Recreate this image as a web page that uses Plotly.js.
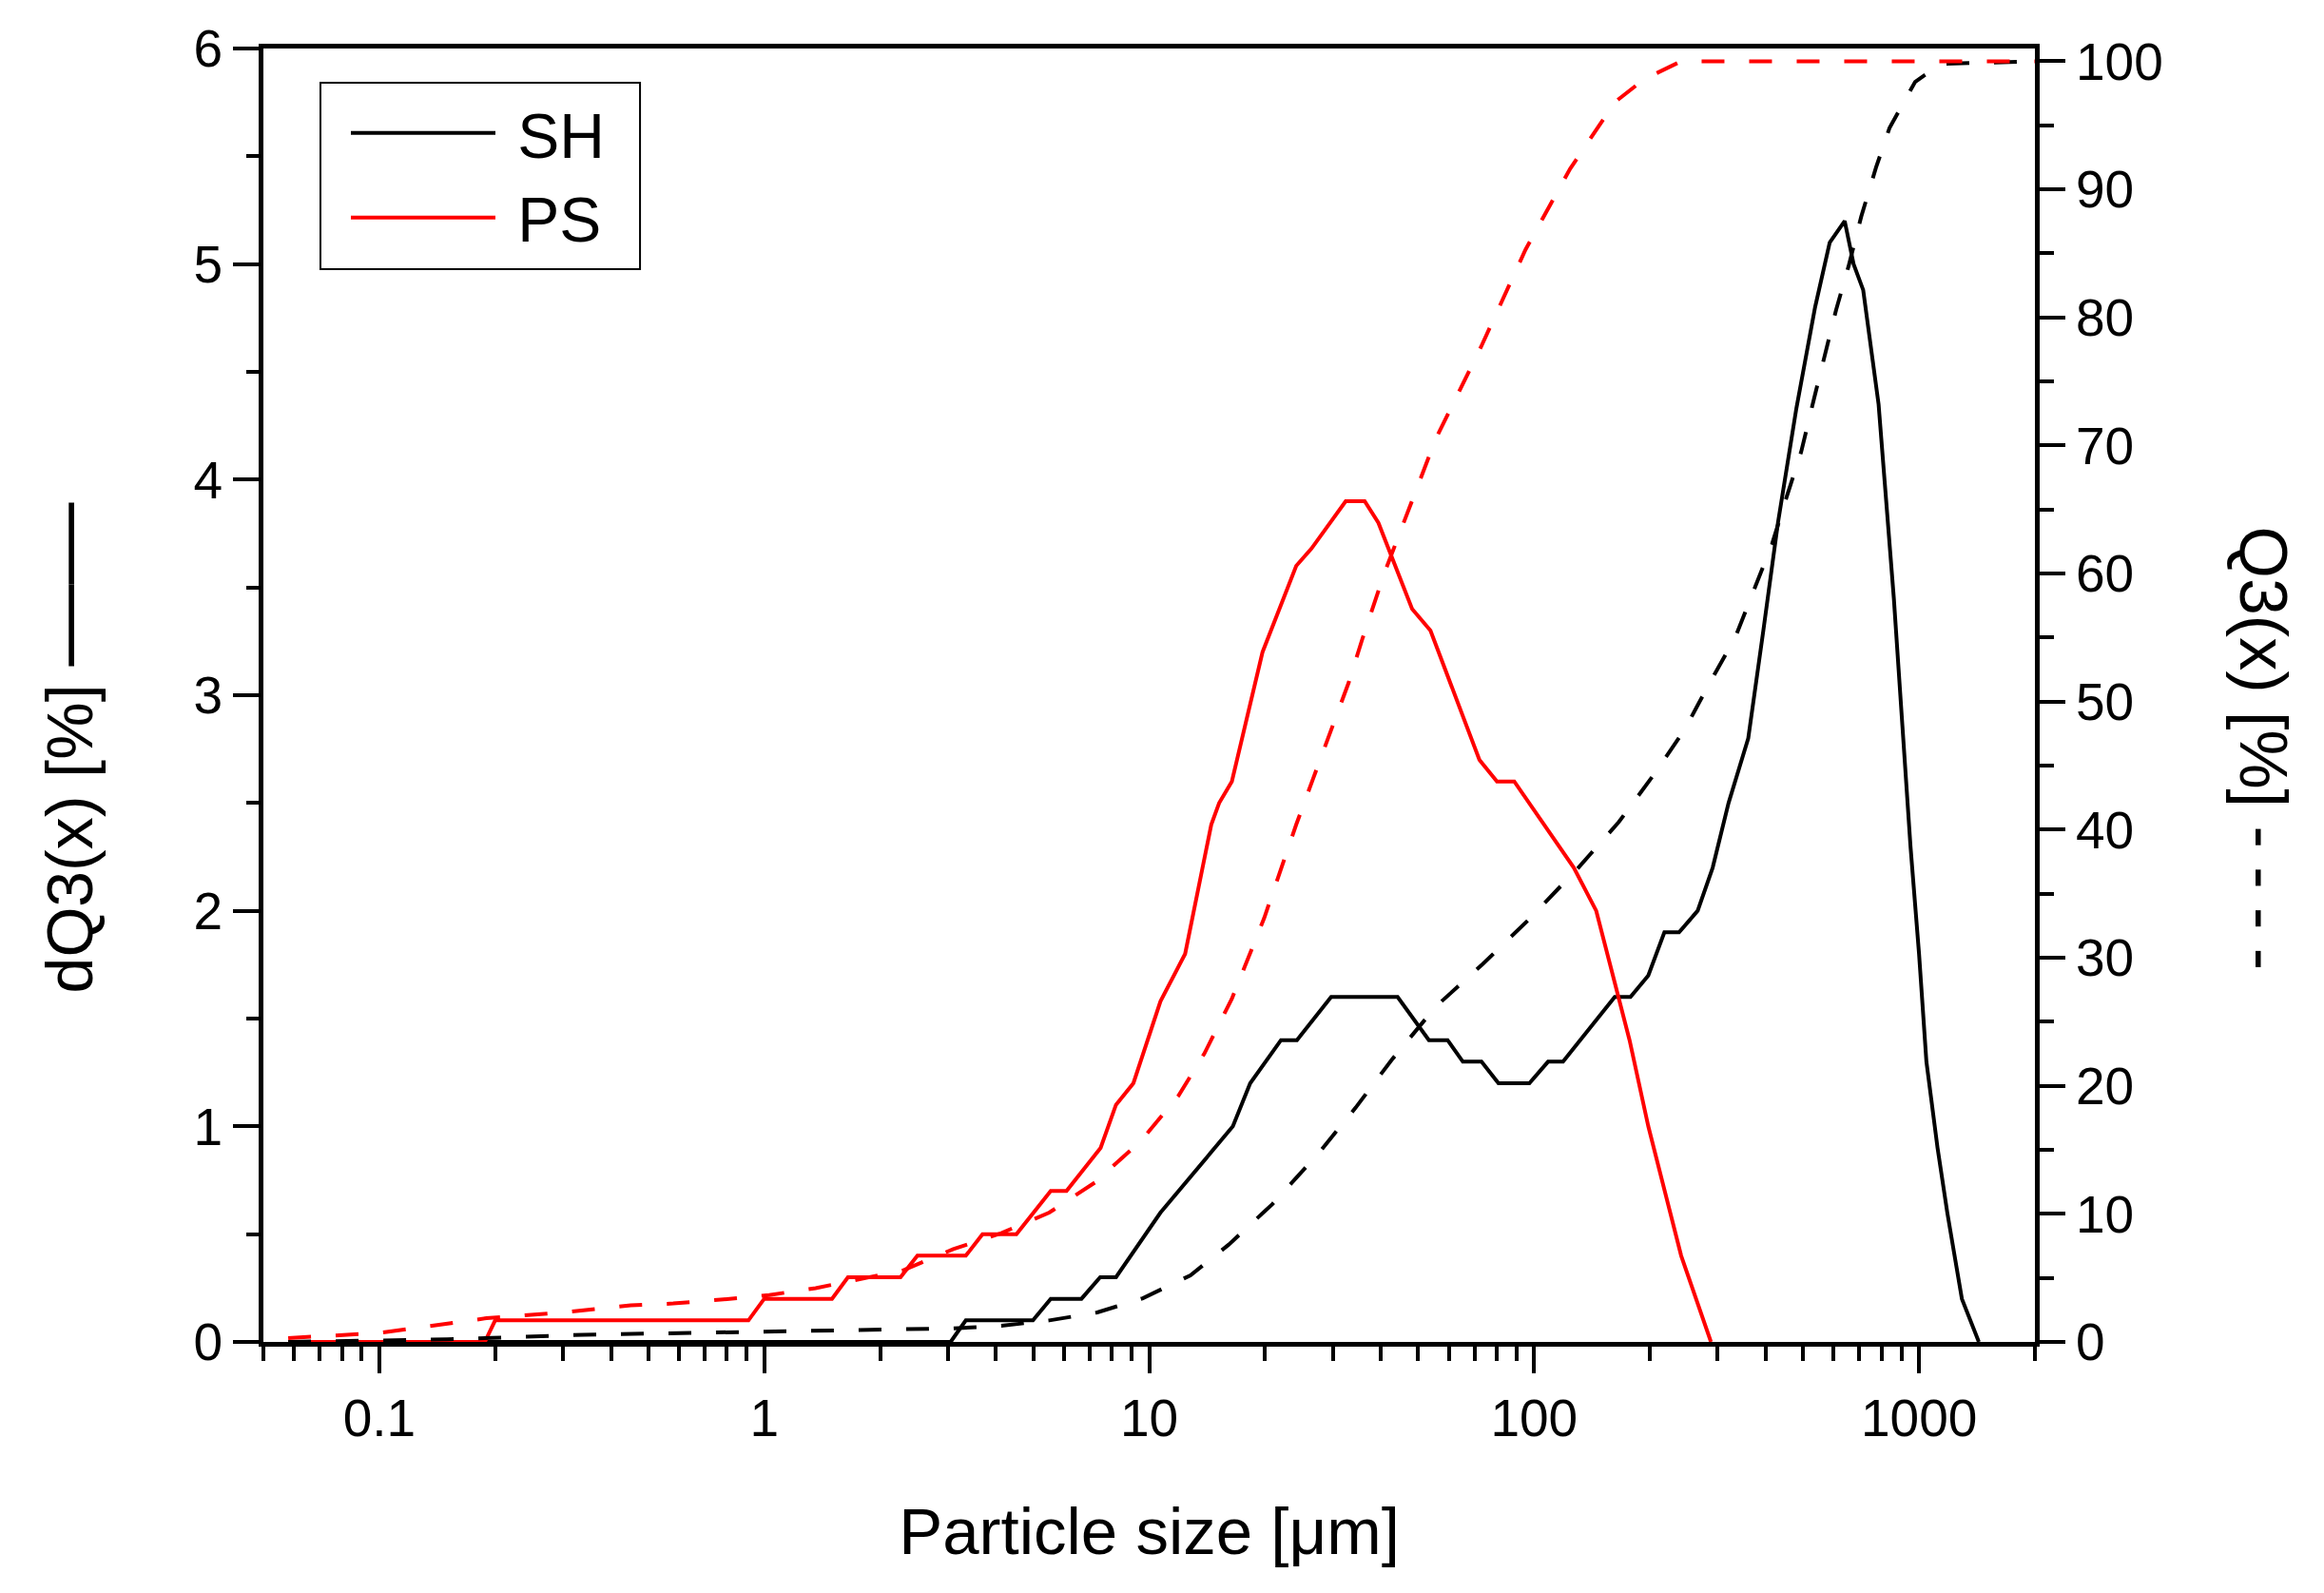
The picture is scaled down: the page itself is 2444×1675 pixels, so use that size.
<!DOCTYPE html>
<html>
<head>
<meta charset="utf-8">
<script src="https://cdn.plot.ly/plotly-3.0.1.min.js"></script>
<style>html,body{margin:0;padding:0;background:#fff;}#chart{width:2444px;height:1675px;}</style>
</head>
<body>
<div id="chart"></div>
<script>
// Particle sizes [µm] and values
const shSize = [0.058, 3.05, 3.34, 4.99, 5.55, 6.67, 7.46, 8.2, 10.7, 16.5, 18.3, 22.0, 24.2, 29.7, 44.2, 53.3, 59.6, 65.3, 73, 80.8, 97.2, 108.7, 118.9, 162, 178, 198, 218, 238, 266, 291, 320, 360, 394, 430, 480, 537, 586, 641, 676, 716, 785, 860, 950, 1000, 1045, 1117, 1184, 1292, 1430];
const shDiff = [0, 0, 0.1, 0.1, 0.2, 0.2, 0.3, 0.3, 0.6, 1.0, 1.2, 1.4, 1.4, 1.6, 1.6, 1.4, 1.4, 1.3, 1.3, 1.2, 1.2, 1.3, 1.3, 1.6, 1.6, 1.7, 1.9, 1.9, 2.0, 2.2, 2.5, 2.8, 3.3, 3.8, 4.33, 4.8, 5.1, 5.2, 5.0, 4.88, 4.35, 3.45, 2.3, 1.8, 1.3, 0.9, 0.6, 0.2, 0];

const psSize = [0.058, 0.188, 0.2, 0.91, 1.0, 1.5, 1.65, 2.26, 2.5, 3.34, 3.69, 4.52, 5.55, 6.1, 7.48, 8.2, 9.1, 10.7, 12.4, 14.5, 15.2, 16.4, 19.7, 24.1, 26.4, 32.4, 36.3, 39.4, 48.2, 53.8, 72.1, 80.1, 88.8, 126.8, 145, 155, 177, 198, 241, 288];
const psDiff = [0, 0, 0.1, 0.1, 0.2, 0.2, 0.3, 0.3, 0.4, 0.4, 0.5, 0.5, 0.7, 0.7, 0.9, 1.1, 1.2, 1.58, 1.8, 2.4, 2.5, 2.6, 3.2, 3.6, 3.68, 3.9, 3.9, 3.8, 3.4, 3.3, 2.7, 2.6, 2.6, 2.2, 2.0, 1.8, 1.4, 1.0, 0.4, 0];

const shCumSize = [0.058, 0.15, 0.34, 0.59, 1.03, 1.78, 3.1, 4.13, 5.5, 7.33, 9.63, 12.8, 16.1, 20.9, 27.5, 34.4, 42.6, 55.6, 73.5, 97, 130, 166, 203, 246, 285, 333, 373, 415, 452, 494, 533, 569, 609, 656, 708, 773, 838, 977, 1140, 2000];
const shCum = [0, 0.2, 0.56, 0.69, 0.82, 0.9, 1.06, 1.26, 1.68, 2.3, 3.41, 5.2, 7.6, 10.76, 14.7, 18.3, 22.0, 26.2, 29.5, 33.0, 37.0, 40.6, 44.15, 47.8, 51.4, 55.0, 58.7, 62.3, 65.9, 69.5, 73.6, 77.0, 80.6, 84.0, 87.9, 91.7, 94.8, 98.4, 99.8, 100];

const psCumSize = [0.058, 0.1, 0.19, 0.3, 0.45, 0.58, 0.77, 1.03, 1.36, 2.3, 3.1, 4.13, 5.5, 7.23, 9.52, 11.9, 13.9, 16.4, 19.9, 24.1, 26.6, 33, 35.8, 40.8, 45.6, 55.5, 72.8, 95, 124, 162, 193, 241, 2000];
const psCum = [0.3, 0.7, 1.85, 2.3, 2.85, 3.0, 3.3, 3.66, 4.2, 5.6, 7.25, 8.5, 10.1, 12.45, 15.7, 19.2, 22.5, 26.8, 33.1, 40.4, 43.9, 51.5, 54.9, 60, 63.8, 70.5, 77.7, 85.3, 91.6, 96.8, 98.6, 100, 100];

const seriesNames = ['SH', 'PS'];
const xTitle = 'Particle size [\u03bcm]';
const yTitle = 'dQ3(x) [%] <span style="font-size:86px">\u2014\u2014</span>';
const y2Title = 'Q3(x) [%] - - - -';

const FONT = 'Liberation Sans, Arial, Helvetica, sans-serif';
const dashPat = '24px,26px';

const traces = [
  {x: shCumSize, y: shCum, yaxis: 'y2', mode: 'lines', showlegend: false,
   line: {color: '#000000', width: 4, dash: dashPat}},
  {x: psCumSize, y: psCum, yaxis: 'y2', mode: 'lines', showlegend: false,
   line: {color: '#ff0000', width: 4, dash: dashPat}},
  {x: shSize, y: shDiff, name: '\u00a0' + seriesNames[0], mode: 'lines',
   line: {color: '#000000', width: 4}},
  {x: psSize, y: psDiff, name: '\u00a0' + seriesNames[1], mode: 'lines',
   line: {color: '#ff0000', width: 4}}
];

const axisCommon = {
  showline: true, linecolor: '#000', linewidth: 5,
  ticks: 'outside', tickcolor: '#000', tickwidth: 4, ticklen: 27,
  showgrid: false, zeroline: false,
  tickfont: {family: FONT, size: 55, color: '#000'}
};

const layout = {
  width: 2444, height: 1675,
  margin: {l: 277, r: 304, t: 51, b: 264, pad: 0},
  paper_bgcolor: '#fff', plot_bgcolor: '#fff',
  font: {family: FONT, color: '#000', size: 55},
  showlegend: true,
  legend: {
    x: 0.0467, y: 0.971, xanchor: 'left', yanchor: 'top',
    bgcolor: 'rgba(0,0,0,0)', borderwidth: 0,
    font: {family: FONT, size: 66, color: '#000'},
    itemwidth: 152, tracegroupgap: 0
  },
  shapes: [
    {type: 'rect', xref: 'paper', yref: 'paper', x0: 0.0322, x1: 0.2126, y0: 0.8294, y1: 0.9735,
     line: {color: '#000', width: 2}, fillcolor: 'rgba(0,0,0,0)', layer: 'above'}
  ],
  xaxis: Object.assign({}, axisCommon, {
    type: 'log',
    range: [Math.log10(0.05), Math.log10(2000)],
    tickmode: 'linear', tick0: 0, dtick: 1,
    exponentformat: 'none',
    ticklen: 28,
    mirror: true,
    minor: {dtick: 'D1', ticks: 'outside', ticklen: 15, tickwidth: 4, tickcolor: '#000', showgrid: false},
    title: {text: xTitle, font: {family: FONT, size: 69, color: '#000'}, standoff: 66}
  }),
  yaxis: Object.assign({}, axisCommon, {
    range: [0, 6], dtick: 1, tick0: 0,
    minor: {dtick: 0.5, ticks: 'outside', ticklen: 13, tickwidth: 4, tickcolor: '#000', showgrid: false}
  }),
  yaxis2: Object.assign({}, axisCommon, {
    overlaying: 'y', side: 'right',
    range: [0, 101], dtick: 10, tick0: 0,
    minor: {dtick: 5, ticks: 'outside', ticklen: 15, tickwidth: 4, tickcolor: '#000', showgrid: false}
  }),
  annotations: [
    {xref: 'paper', yref: 'paper', x: -0.113, y: 0.4596, xanchor: 'center', yanchor: 'middle',
     text: yTitle, textangle: -90, showarrow: false, font: {family: FONT, size: 68, color: '#000'}},
    {xref: 'paper', yref: 'paper', x: 1.1288, y: 0.4585, xanchor: 'center', yanchor: 'middle',
     text: y2Title, textangle: 90, showarrow: false, font: {family: FONT, size: 70, color: '#000'}}
  ]
};

Plotly.newPlot('chart', traces, layout, {staticPlot: true, displayModeBar: false});
</script>
</body>
</html>
